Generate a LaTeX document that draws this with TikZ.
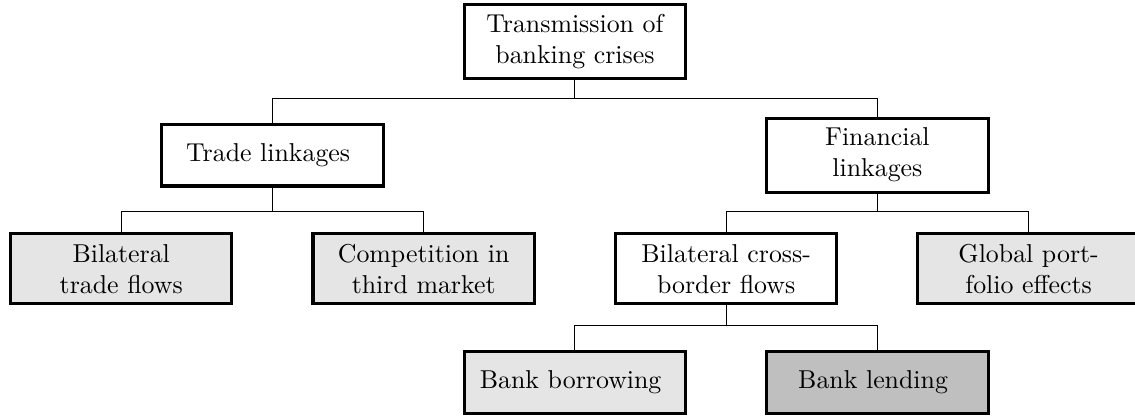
\documentclass[tikz,border=0pt]{standalone}
\usetikzlibrary{positioning, calc}

\begin{document}
\begin{tikzpicture}[
        channel/.style={
            draw,
            very thick,
            minimum width=3.01cm,
            minimum height=0.84cm,
            align=center
        },
        headline/.style={
            channel,
            minimum height=1.006cm
        },
        outcome/.style={
            channel,
            fill=gray!20
        },
        highlight/.style={
            channel,
            fill=gray!50
        },
        branch/.style={
            thin,
            black
        },
        on grid,
        node distance=1.545cm and 4.112cm
    ]

        \useasboundingbox (0,0) rectangle (15.43,-5.655);

        % ---------------------------------------------------------------------
        % Root and the two channels
        % ---------------------------------------------------------------------

        \node[
            headline
        ] (root) at (7.816,-0.564) {
            Transmission of\\
            banking crises
        };

        \node[
            channel,
            below left=of root
        ] (trade) {
            Trade linkages
        };

        \node[
            headline,
            below right=of root
        ] (financial) {
            Financial\\
            linkages
        };

        % ---------------------------------------------------------------------
        % Second level
        % ---------------------------------------------------------------------

        \node[
            outcome,
            minimum height=0.95cm,
            below left=1.545cm and 2.056cm of trade
        ] (bilateral) {
            Bilateral\\
            trade flows
        };

        \node[
            outcome,
            minimum height=0.95cm,
            below right=1.545cm and 2.056cm of trade
        ] (competition) {
            Competition in\\
            third market
        };

        \node[
            channel,
            minimum height=0.95cm,
            below left=1.545cm and 2.056cm of financial
        ] (crossborder) {
            Bilateral cross-\\
            border flows
        };

        \node[
            outcome,
            minimum height=0.95cm,
            below right=1.545cm and 2.056cm of financial
        ] (portfolio) {
            Global port-\\
            folio effects
        };

        % ---------------------------------------------------------------------
        % Bank flows
        % ---------------------------------------------------------------------

        \node[
            outcome,
            below left=1.545cm and 2.056cm of crossborder
        ] (borrowing) {
            Bank borrowing
        };

        \node[
            highlight,
            below right=1.545cm and 2.056cm of crossborder
        ] (lending) {
            Bank lending
        };

        % ---------------------------------------------------------------------
        % Tree lines
        % ---------------------------------------------------------------------

        \draw[branch] (root.south) |- ($(root)!0.5!(trade)$) -| (trade.north);
        \draw[branch] (root.south) |- ($(root)!0.5!(financial)$) -| (financial.north);

        \draw[branch] (trade.south) |- ($(trade)!0.5!(bilateral)$) -| (bilateral.north);
        \draw[branch] (trade.south) |- ($(trade)!0.5!(competition)$) -| (competition.north);

        \draw[branch] (financial.south) |- ($(financial)!0.5!(crossborder)$) -| (crossborder.north);
        \draw[branch] (financial.south) |- ($(financial)!0.5!(portfolio)$) -| (portfolio.north);

        \draw[branch] (crossborder.south) |- ($(crossborder)!0.5!(borrowing)$) -| (borrowing.north);
        \draw[branch] (crossborder.south) |- ($(crossborder)!0.5!(lending)$) -| (lending.north);

    \end{tikzpicture}
\end{document}
